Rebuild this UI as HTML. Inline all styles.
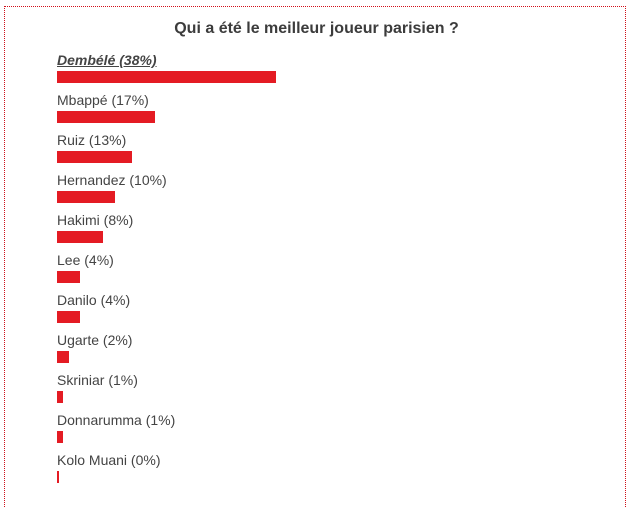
<!DOCTYPE html>
<html><head><meta charset="utf-8"><style>
body{margin:0;width:633px;height:489px;background:#fff;overflow:hidden;font-family:"Liberation Sans",sans-serif;}
#box{position:absolute;left:4px;top:6px;width:620px;height:500px;border:1px dotted #d0101a;border-bottom:none;}
#title{position:absolute;left:0;width:633px;top:20px;text-align:center;font-weight:bold;font-size:16px;color:#3c3c3c;}
.lbl{position:absolute;left:57px;font-size:14px;color:#444;white-space:nowrap;}
.bar{position:absolute;left:57px;height:12px;background:#e41b23;}
</style></head><body>
<div id="box"></div>
<div id="title">Qui a été le meilleur joueur parisien ?</div>
<div id="chart"></div>
<script>
const names=["Dembélé","Mbappé","Ruiz","Hernandez","Hakimi","Lee","Danilo","Ugarte","Skriniar","Donnarumma","Kolo Muani"];
const values=[38,17,13,10,8,4,4,2,1,1,0];
const chart=document.getElementById('chart');
const scale=v=>Math.max(2,v*5.77);
names.forEach((n,i)=>{
  const y=52+i*40;
  const l=document.createElement('div');
  l.className='lbl';
  
  
  l.style.top=y+'px';
  l.textContent=n+' ('+values[i]+'%)';
  if(i===0){l.style.fontWeight='bold';l.style.fontStyle='italic';l.style.textDecoration='underline';}
  chart.appendChild(l);
  const b=document.createElement('div');
  b.className='bar';
  
  
  b.style.top=(y+19)+'px';
  b.style.width=scale(values[i])+'px';
  chart.appendChild(b);
});
</script>
</body></html>
